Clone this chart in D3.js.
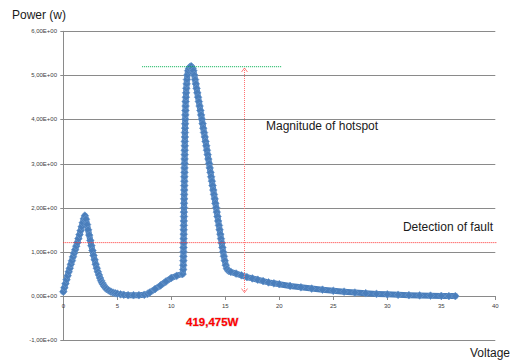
<!DOCTYPE html>
<html><head><meta charset="utf-8">
<script src="https://cdn.jsdelivr.net/npm/d3@7"></script>
<style>
html,body{margin:0;padding:0;background:#fff;overflow:hidden}
svg{display:block}
text{font-family:"Liberation Sans",Arial,sans-serif}
</style></head>
<body>
<svg id="chart" width="511" height="360"></svg>
<script>
// ---- data ----
const voltage = [
  0.0,0.1,0.2,0.3,0.4,0.5,0.6,0.7,0.8,0.9,1.0,1.1,1.2,1.3,1.4,1.5,1.6,1.7,1.8,1.9,2.0,
  2.1,2.2,2.3,2.4,2.5,2.6,2.7,2.8,2.9,3.0,3.1,3.2,3.3,3.4,3.5,3.6,3.7,3.8,3.9,4.0,
  4.2,4.4,4.6,4.8,5.0,5.3,5.6,6.0,6.5,7.0,7.5,7.8,8.0,8.5,9.0,9.5,10.0,10.5,11.0,
  11.05,11.1,11.11,11.12,11.12,11.13,11.13,11.14,11.14,11.15,11.15,11.16,11.16,11.17,11.17,
  11.18,11.18,11.19,11.19,11.2,11.2,11.21,11.21,11.22,11.22,11.23,11.23,11.24,11.24,11.25,
  11.25,11.26,11.26,11.27,11.28,11.29,11.3,11.31,11.32,11.33,11.35,11.37,11.39,11.42,11.45,
  11.49,11.56,11.64,11.74,11.85,
  11.97,12.04,12.13,12.2,12.27,12.34,12.41,12.48,12.55,12.62,12.69,12.76,12.83,12.9,12.96,
  13.03,13.1,13.17,13.24,13.3,13.37,13.43,13.5,13.56,13.63,13.69,13.76,13.82,13.89,13.95,
  14.02,14.08,14.15,14.21,14.28,14.34,14.41,14.47,14.54,14.6,14.67,14.73,14.8,14.87,14.95,
  15.04,15.15,15.3,
  15.5,16,16.5,17,17.5,18,18.5,19,19.5,20,21,22,23,24,25,26,27,28,29,30,31,32,33,34,35,35.7,36.3
];
const power = [
  0.10,0.19,0.28,0.37,0.46,0.55,0.63,0.72,0.80,0.89,0.97,1.05,1.13,1.21,1.30,1.39,1.48,1.57,1.66,1.75,1.82,
  1.74,1.62,1.50,1.38,1.26,1.14,1.03,0.92,0.82,0.72,0.63,0.55,0.48,0.41,0.35,0.30,0.26,0.22,0.19,0.16,
  0.13,0.10,0.08,0.065,0.055,0.04,0.03,0.02,0.02,0.02,0.03,0.05,0.08,0.16,0.24,0.33,0.41,0.46,0.50,
  0.50,0.6,0.7,0.8,0.9,1.0,1.1,1.2,1.3,1.4,1.5,1.6,1.7,1.8,1.9,
  2.0,2.1,2.2,2.3,2.4,2.5,2.6,2.7,2.8,2.9,3.0,3.1,3.2,3.3,3.4,
  3.5,3.6,3.7,3.8,3.9,4.0,4.1,4.2,4.3,4.4,4.5,4.6,4.7,4.8,4.9,
  5.0,5.1,5.15,5.19,5.2,
  5.15,5.1,5.0,4.9,4.8,4.7,4.6,4.5,4.4,4.3,4.2,4.1,4.0,3.9,3.8,
  3.7,3.6,3.5,3.4,3.3,3.2,3.1,3.0,2.9,2.8,2.7,2.6,2.5,2.4,2.3,
  2.2,2.1,2.0,1.9,1.8,1.7,1.6,1.5,1.4,1.3,1.2,1.1,1.0,0.9,0.8,
  0.7,0.62,0.57,
  0.55,0.51,0.47,0.43,0.40,0.37,0.34,0.31,0.29,0.27,0.23,0.20,0.17,0.145,0.12,0.10,0.08,0.065,0.05,0.04,0.03,0.02,0.015,0.01,0.005,0.0,0.0
];
const xTicks = [0,5,10,15,20,25,30,35,40];
const yTicks = [-1,0,1,2,3,4,5,6];
const yTickLabels = ["-1,00E+00","0,00E+00","1,00E+00","2,00E+00","3,00E+00","4,00E+00","5,00E+00","6,00E+00"];
const faultLevel = 1.21;          // "Detection of fault" threshold
const peakLevel = 5.19;           // top of hotspot
const peakLineRange = [7.3, 20.2];
const arrowVoltage = 16.73;
const arrowRange = [0.08, 5.16];
const hotspotLabel = "419,475W";

// ---- chart ----
const svg = d3.select("#chart");
const x = d3.scaleLinear().domain([0,40]).range([63.3,495.3]);
const y = d3.scaleLinear().domain([-1,6]).range([340.3,30.9]);

const grid = "#8a8a8a";
// gridlines
svg.append("g").selectAll("line").data(yTicks).join("line")
  .attr("x1",x(0)-3).attr("x2",x(40))
  .attr("y1",d=>Math.round(y(d))+0.5).attr("y2",d=>Math.round(y(d))+0.5)
  .attr("stroke",grid).attr("stroke-width",1);
// y axis line
svg.append("line").attr("x1",Math.round(x(0))+0.5).attr("x2",Math.round(x(0))+0.5)
  .attr("y1",y(6)).attr("y2",y(-1)).attr("stroke",grid);
// y labels
svg.append("g").selectAll("text").data(yTicks).join("text")
  .attr("x",57).attr("y",d=>y(d)+2)
  .attr("text-anchor","end").attr("font-size","6px").attr("fill","#404040")
  .text((d,i)=>yTickLabels[i]);
// x ticks on zero line
svg.append("g").selectAll("line").data(xTicks).join("line")
  .attr("x1",d=>Math.round(x(d))+0.5).attr("x2",d=>Math.round(x(d))+0.5)
  .attr("y1",Math.round(y(0))).attr("y2",Math.round(y(0))+4)
  .attr("stroke",grid);
svg.append("g").selectAll("text").data(xTicks).join("text")
  .attr("x",d=>x(d)).attr("y",y(0)+12)
  .attr("text-anchor","middle").attr("font-size","6px").attr("fill","#404040")
  .text(d=>d);

// series
const pts = voltage.map((v,i)=>[v,power[i]]);
const blue = "#4a7ebb";
svg.append("path").datum(pts)
  .attr("d",d3.line().x(d=>x(d[0])).y(d=>y(d[1])))
  .attr("fill","none").attr("stroke",blue).attr("stroke-width",6)
  .attr("stroke-linejoin","round").attr("stroke-linecap","round");
const diamond = d3.symbol().type(d3.symbolSquare).size(30);
svg.append("g").selectAll("path").data(pts).join("path")
  .attr("d",diamond)
  .attr("transform",d=>`translate(${x(d[0])},${y(d[1])}) rotate(45)`)
  .attr("fill",blue).attr("stroke","#6f9bd0").attr("stroke-width",0.6);

// annotations
svg.append("line")
  .attr("x1",x(peakLineRange[0])).attr("x2",x(peakLineRange[1]))
  .attr("y1",y(peakLevel)).attr("y2",y(peakLevel))
  .attr("stroke","#00b050").attr("stroke-width",1).attr("stroke-dasharray","1,1");
svg.append("line")
  .attr("x1",x(0)).attr("x2",x(40)+1)
  .attr("y1",y(faultLevel)).attr("y2",y(faultLevel))
  .attr("stroke","#ff3030").attr("stroke-width",1).attr("stroke-dasharray","1,1");
const ax = Math.round(x(arrowVoltage))+0.5;
const aTop = y(arrowRange[1]), aBot = y(arrowRange[0]);
svg.append("line").attr("x1",ax).attr("x2",ax).attr("y1",aTop).attr("y2",aBot)
  .attr("stroke","#ff7070").attr("stroke-width",1).attr("stroke-dasharray","1,1");
svg.append("path").attr("d",`M${ax-3},${aTop+4}L${ax},${aTop}L${ax+3},${aTop+4}`)
  .attr("fill","none").attr("stroke","#ff7070").attr("stroke-width",0.9);
svg.append("path").attr("d",`M${ax-3},${aBot-4}L${ax},${aBot}L${ax+3},${aBot-4}`)
  .attr("fill","none").attr("stroke","#ff7070").attr("stroke-width",0.9);

// texts
svg.append("text").attr("x",12).attr("y",19).attr("font-size","12px").attr("fill","#1a1a1a").text("Power (w)");
svg.append("text").attr("x",510).attr("y",357).attr("text-anchor","end").attr("font-size","12px").attr("fill","#1a1a1a").text("Voltage");
svg.append("text").attr("x",266).attr("y",130).attr("font-size","12px").attr("fill","#1a1a1a").text("Magnitude of hotspot");
svg.append("text").attr("x",493).attr("y",231).attr("text-anchor","end").attr("font-size","12px").attr("fill","#1a1a1a").text("Detection of fault");
svg.append("text").attr("x",186).attr("y",326).attr("font-size","11.5px").attr("font-weight","bold")
  .attr("fill","#ff0000").style("paint-order","stroke").attr("stroke","rgba(120,0,0,0.25)").attr("stroke-width",1)
  .text(hotspotLabel);
</script>
</body></html>
